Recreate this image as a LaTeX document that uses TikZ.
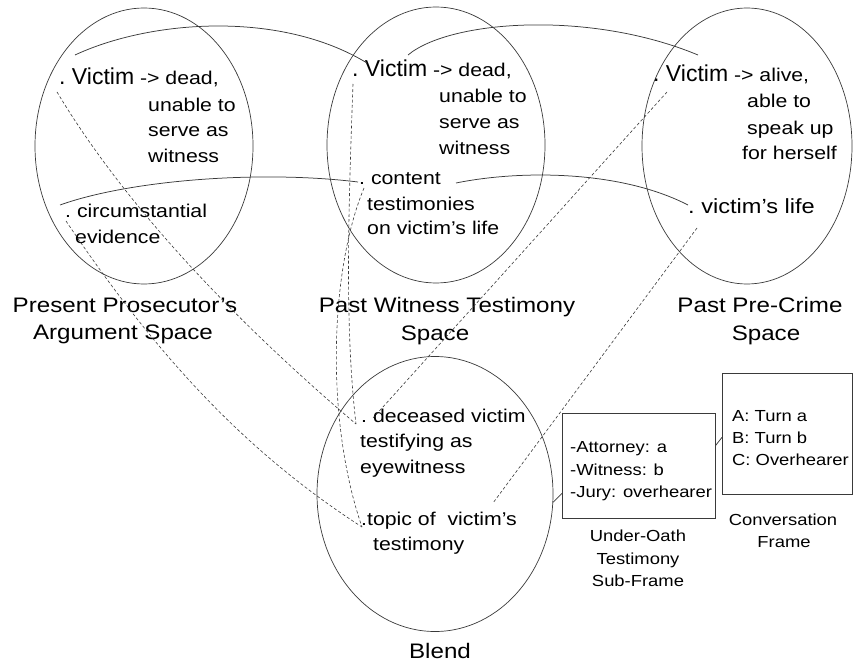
\documentclass[tikz,border=0pt]{standalone}
\usepackage{fontspec}
\setmainfont{Liberation Sans}[FakeStretch=1.15]
\newfontfamily\vicfont{Liberation Sans}
\usetikzlibrary{shapes.geometric}
\newcommand\fsz[1]{\fontsize{#1}{#1}\selectfont}
\newcommand\vic{{\vicfont\fsz{23}.\ Victim}}
\definecolor{ln}{HTML}{3A3A3A}
\begin{document}
\begin{tikzpicture}[x=1pt,y=-1pt,
  spacebox/.style={draw=ln, ellipse, inner sep=0pt, line width=0.7pt},
  framebox/.style={draw=ln, rectangle, inner sep=0pt, line width=0.7pt, anchor=north west},
  txt/.style={inner sep=0pt, anchor=base west, font=\fsz{18.5}},
  lbl/.style={inner sep=0pt, anchor=base, font=\fsz{21}},
  btxt/.style={inner sep=0pt, anchor=base west, font=\fsz{16}},
  blbl/.style={inner sep=0pt, anchor=base, font=\fsz{16}},
  link/.style={draw=ln, line width=0.75pt},
  map/.style={draw=ln, line width=0.6pt, dash pattern=on 3pt off 2.2pt}]
\useasboundingbox (0,0) rectangle (853,663);

% mental spaces
\node[spacebox, minimum width=218pt, minimum height=276pt] (pp) at (144,146) {};
\node[spacebox, minimum width=218pt, minimum height=276pt] (pw) at (436,145) {};
\node[spacebox, minimum width=210pt, minimum height=276pt] (pc) at (747,146) {};
\node[spacebox, minimum width=236pt, minimum height=275pt] (bl) at (435,494) {};

% Present Prosecutor's Argument Space
\node[txt] (pp1) at (59,85) {\vic\ -> dead,};
\node[txt] (pp2) at (148,112) {unable to};
\node[txt] (pp3) at (148,137) {serve as};
\node[txt] (pp4) at (148,163) {witness};
\node[txt] (pp5) at (65,217) {.\ circumstantial};
\node[txt] (pp6) at (75,243) {evidence};
\node[lbl] (ppl1) at (125,312) {Present Prosecutor’s};
\node[lbl] (ppl2) at (123,339) {Argument Space};

% Past Witness Testimony Space
\node[txt] (pw1) at (352,77) {\vic\ -> dead,};
\node[txt] (pw2) at (439,103) {unable to};
\node[txt] (pw3) at (439,129) {serve as};
\node[txt] (pw4) at (439,155) {witness};
\node[txt] (pw5) at (359,184) {.\ content};
\node[txt] (pw6) at (367,210) {testimonies};
\node[txt] (pw7) at (367,234) {on victim’s life};
\node[lbl] (pwl1) at (447,312) {Past Witness Testimony};
\node[lbl] (pwl2) at (435,340) {Space};

% Past Pre-Crime Space
\node[txt] (pc1) at (653,82) {\vic\ -> alive,};
\node[txt] (pc2) at (747,108) {able to};
\node[txt] (pc3) at (747,135) {speak up};
\node[txt] (pc4) at (742,160) {for herself};
\node[txt, font=\fsz{20.5}] (pc5) at (688,213) {.\ victim’s life};
\node[lbl] (pcl1) at (760,312) {Past Pre-Crime};
\node[lbl] (pcl2) at (766,340) {Space};

% Blend
\node[txt] (bl1) at (361,422) {.\ deceased victim};
\node[txt] (bl2) at (360,447) {testifying as};
\node[txt] (bl3) at (360,473) {eyewitness};
\node[txt] (bl4) at (361,525) {.topic of\ \ victim’s};
\node[txt] (bl5) at (373,550) {testimony};
\node[lbl] (bll) at (440,658) {Blend};

% frames
\node[framebox, minimum width=153pt, minimum height=105pt] (uo) at (562,413) {};
\node[btxt] (uo1) at (570,452) {-Attorney: a};
\node[btxt] (uo2) at (570,475) {-Witness: b};
\node[btxt] (uo3) at (570,497) {-Jury: overhearer};
\node[blbl] (uol1) at (638,541) {Under-Oath};
\node[blbl] (uol2) at (638,564) {Testimony};
\node[blbl] (uol3) at (638,586) {Sub-Frame};

\node[framebox, minimum width=130pt, minimum height=121pt] (cf) at (722,373) {};
\node[btxt] (cf1) at (732,421) {A: Turn a};
\node[btxt] (cf2) at (732,443) {B: Turn b};
\node[btxt] (cf3) at (732,465) {C: Overhearer};
\node[blbl] (cfl1) at (783,525) {Conversation};
\node[blbl] (cfl2) at (784,547) {Frame};

\draw[link] (bl.-4) -- ([yshift=-27.5pt]uo.west);
\draw[link] ([yshift=20.5pt]uo.east) -- ([yshift=-3.5pt]cf.west);

% anchor points of the connectors
\coordinate (sA) at (75,55);
\coordinate (sB) at (367,63);
\coordinate (sC) at (408,55);
\coordinate (sD) at (698,55);
\coordinate (sE) at (60,205);
\coordinate (sF) at (358,182);
\coordinate (sG) at (456,183);
\coordinate (sH) at (688,205);

\coordinate (dPPv) at (57,92);
\coordinate (dPPc) at (66,221);
\coordinate (dPWv) at (353,84);
\coordinate (dPWc) at (364,188);
\coordinate (dPCv) at (667,92);
\coordinate (dPCl) at (697,228);
\coordinate (dBLd) at (356,424);
\coordinate (dBLd2) at (373,418);
\coordinate (dBLt) at (362,527);
\coordinate (dBLt2) at (493,503);

% cross-space counterpart links
\draw[link] (sA) .. controls (150,20) and (280,10) .. (sB);
\draw[link] (sC) .. controls (450,20) and (590,10) .. (sD);
\draw[link] (sE) .. controls (130,180) and (260,170) .. (sF);
\draw[link] (sG) .. controls (520,170) and (620,170) .. (sH);

% projections into the blend
\draw[map] (dPPv) .. controls (123,202) and (228,315) .. (dBLd);
\draw[map] (dPPc) .. controls (151,347) and (238,447) .. (dBLt);
\draw[map] (dPWv) .. controls (348,220) and (345,330) .. (dBLd);
\draw[map] (dPWc) .. controls (330,270) and (325,420) .. (dBLt);
\draw[map] (dPCv) -- (dBLd2);
\draw[map] (dPCl) -- (dBLt2);
\end{tikzpicture}
\end{document}
